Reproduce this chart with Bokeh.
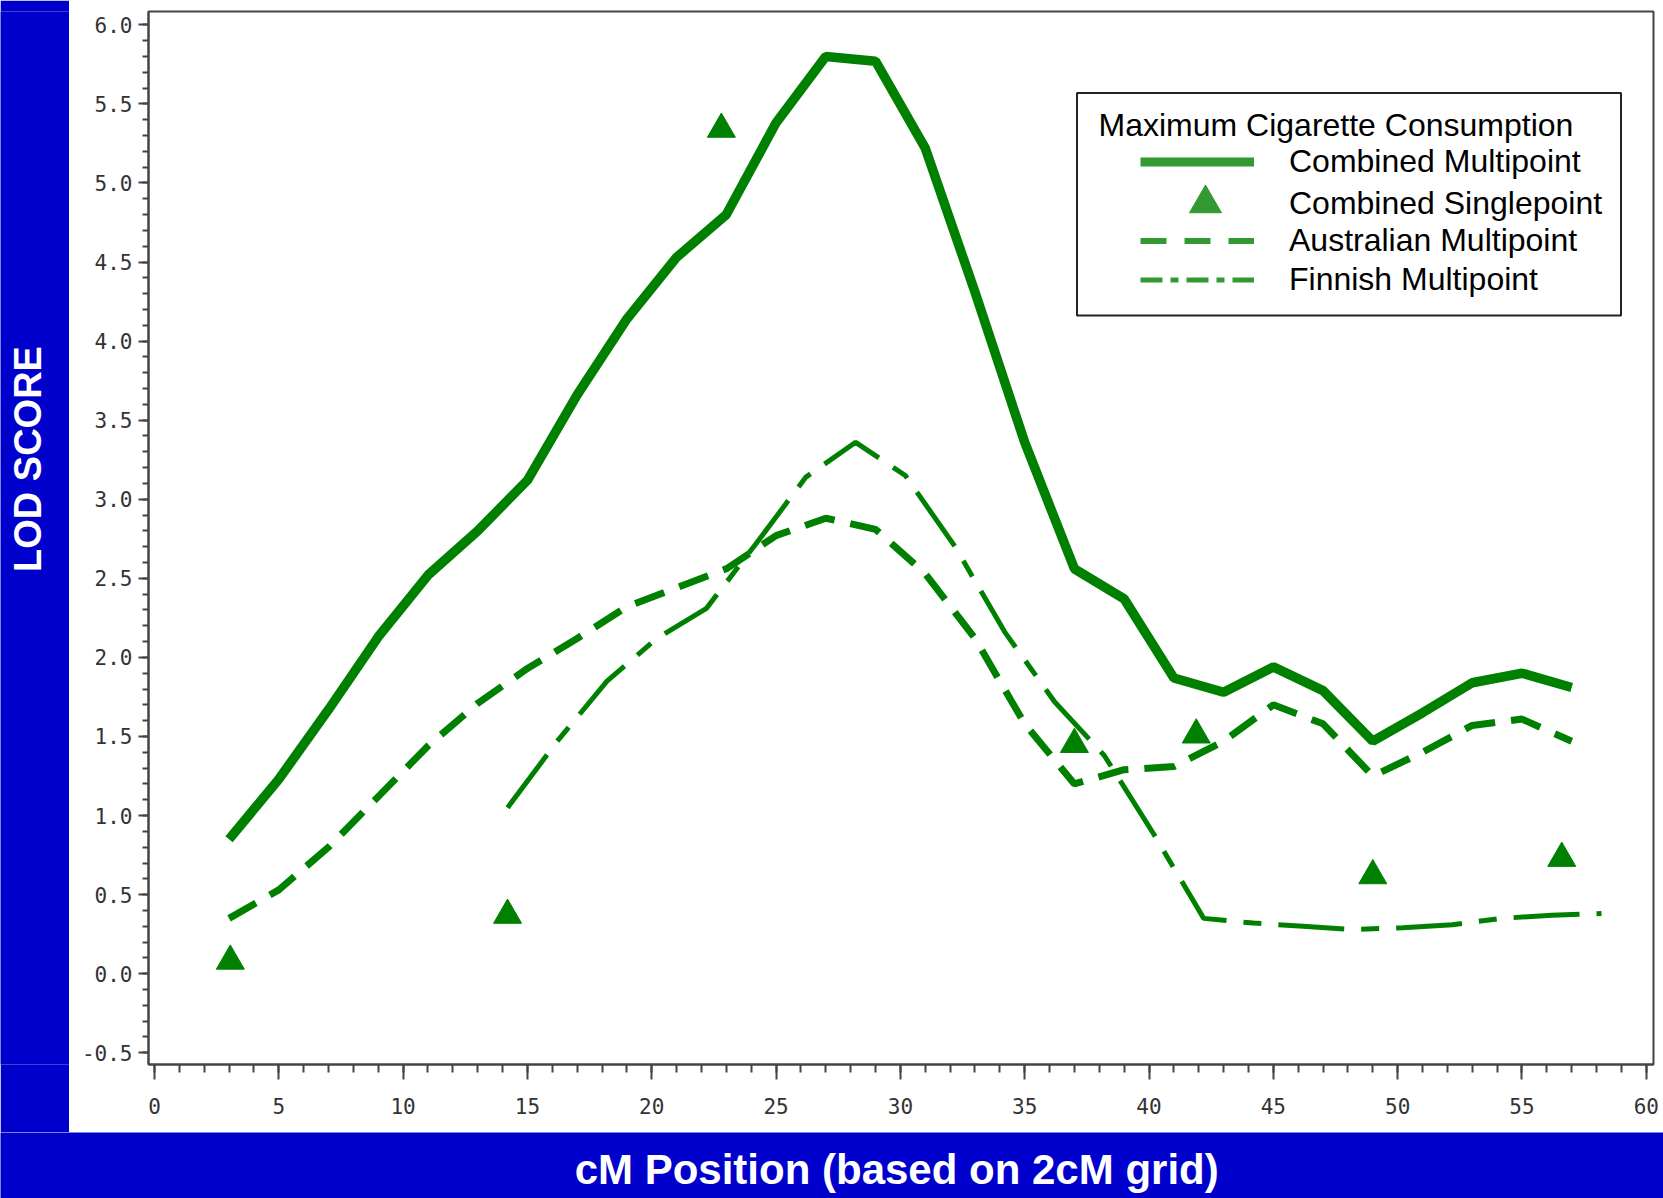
import math
from bokeh.plotting import figure
from bokeh.models import (Legend, LegendItem, Label, BoxAnnotation, FixedTicker,
                          PrintfTickFormatter, Range1d)
from bokeh.layouts import row, column
from bokeh.embed import file_html
from bokeh.resources import INLINE

# ---------------- data ----------------
cm_grid = [3, 5, 7, 9, 11, 13, 15, 17, 19, 21, 23, 25, 27, 29,
           31, 33, 35, 37, 39, 41, 43, 45, 47, 49, 51, 53, 55, 57]
combined_multipoint = [0.85, 1.23, 1.67, 2.13, 2.52, 2.80, 3.12, 3.66, 4.14, 4.53,
                       4.80, 5.38, 5.80, 5.77, 5.22, 4.31, 3.36, 2.56, 2.37, 1.87,
                       1.78, 1.94, 1.79, 1.47, 1.65, 1.84, 1.90, 1.81]
australian_multipoint = [0.35, 0.53, 0.80, 1.12, 1.44, 1.71, 1.93, 2.12, 2.32, 2.44,
                         2.56, 2.77, 2.88, 2.81, 2.53, 2.12, 1.58, 1.20, 1.29, 1.31,
                         1.47, 1.70, 1.58, 1.25, 1.40, 1.57, 1.61, 1.47]
finnish_cm = [14.2, 16.2, 18.2, 20.2, 22.2, 24.2, 26.2, 28.2, 30.2, 32.2, 34.2, 36.2,
              38.2, 40.2, 42.2, 44.2, 46.2, 48.2, 50.2, 52.2, 54.2, 56.2, 58.2]
finnish_multipoint = [1.05, 1.47, 1.85, 2.12, 2.31, 2.72, 3.14, 3.36, 3.15, 2.70, 2.16, 1.72,
                      1.38, 0.88, 0.35, 0.32, 0.30, 0.28, 0.29, 0.31, 0.35, 0.37, 0.38]
single_cm = [3.05, 14.2, 22.8, 37.0, 41.9, 49.0, 56.6]
single_lod = [0.08, 0.37, 5.34, 1.45, 1.51, 0.62, 0.73]

x_ticks = [0, 5, 10, 15, 20, 25, 30, 35, 40, 45, 50, 55, 60]
y_ticks = [-0.5, 0.0, 0.5, 1.0, 1.5, 2.0, 2.5, 3.0, 3.5, 4.0, 4.5, 5.0, 5.5, 6.0]

legend_title = "Maximum Cigarette Consumption"
legend_labels = ["Combined Multipoint", "Combined Singlepoint",
                 "Australian Multipoint", "Finnish Multipoint"]
y_label = "LOD SCORE"
x_label = "cM  Position (based on 2cM grid)"

# ---------------- styles ----------------
BLUE = "#0000CC"
GREEN = "#008000"
LEG_GREEN = "#339933"
AXC = "#444444"

main = figure(width=1594, height=1132, output_backend="svg", toolbar_location=None,
              x_range=Range1d(-0.24, 60.29), y_range=Range1d(-0.574, 6.084),
              min_border_left=79, min_border_right=10, min_border_top=11, min_border_bottom=68,
              background_fill_color="white", border_fill_color="white",
              outline_line_color=AXC, outline_line_width=2)
main.title.visible = False
main.grid.visible = False

main.xaxis.ticker = FixedTicker(ticks=x_ticks, minor_ticks=list(range(0, 61)))
main.yaxis.ticker = FixedTicker(ticks=y_ticks,
                                minor_ticks=[round(-0.5 + 0.1 * i, 2) for i in range(66)])
main.xaxis.formatter = PrintfTickFormatter(format="%d")
main.yaxis.formatter = PrintfTickFormatter(format="%.1f")
for ax in (main.xaxis[0], main.yaxis[0]):
    ax.axis_line_color = AXC
    ax.axis_line_width = 2
    ax.major_tick_line_color = AXC
    ax.major_tick_line_width = 2
    ax.minor_tick_line_color = AXC
    ax.minor_tick_line_width = 2
    ax.major_tick_in = 0
    ax.minor_tick_in = 0
    ax.major_label_text_font = "DejaVu Sans Mono"
    ax.major_label_text_font_size = "21px"
    ax.major_label_text_color = "#333333"
main.xaxis.major_tick_out = 15
main.xaxis.minor_tick_out = 8
main.xaxis.major_label_standoff = 18
main.yaxis.major_tick_out = 10
main.yaxis.minor_tick_out = 6
main.yaxis.major_label_standoff = 6

# data renderers
main.line(cm_grid, combined_multipoint, line_color=GREEN, line_width=9.5)
main.line(cm_grid, australian_multipoint, line_color=GREEN, line_width=7, line_dash="31 16")
main.line(finnish_cm, finnish_multipoint, line_color=GREEN, line_width=5, line_dash="66 17 18 17")
main.scatter(single_cm, single_lod, marker="triangle", size=28,
             fill_color=GREEN, line_color=GREEN)

# legend proxies: same data, hidden in the plot, styled as the reference's legend keys
lg_comb = main.line(cm_grid, combined_multipoint, line_color=LEG_GREEN, line_width=9, visible=False)
lg_single = main.scatter(single_cm, single_lod, marker="triangle",
                         fill_color=LEG_GREEN, line_color=LEG_GREEN, visible=False)
lg_aus = main.line(cm_grid, australian_multipoint, line_color=LEG_GREEN, line_width=6,
                   line_dash="26 18", visible=False)
lg_fin = main.line(finnish_cm, finnish_multipoint, line_color=LEG_GREEN, line_width=5,
                   line_dash="22 8 8 8", visible=False)

FRAME_BOTTOM = 1064  # page y of frame bottom
GLYPH_LEFT = 992     # frame-relative x of legend keys
# (renderer, label, centre y on page, row height, key shift right)
rows = [(lg_comb, legend_labels[0], 161, 39, 0),
        (lg_single, legend_labels[1], 203, 80, 8),
        (lg_aus, legend_labels[2], 240, 39, 0),
        (lg_fin, legend_labels[3], 279, 39, 0)]
for rend, lab, cy, h, dx in rows:
    lg = Legend(items=[LegendItem(label=lab, renderers=[rend])],
                location=(GLYPH_LEFT + dx, FRAME_BOTTOM - cy - h / 2), orientation="vertical",
                glyph_width=114, glyph_height=h, label_height=h, spacing=0,
                padding=0, margin=0, label_standoff=35 - dx,
                border_line_color=None, background_fill_alpha=0,
                label_text_font="Liberation Sans", label_text_font_size="32px",
                label_text_color="black")
    main.add_layout(lg)

main.add_layout(BoxAnnotation(left=928.5, right=1472.5, top=971.5, bottom=749,
                              left_units="screen", right_units="screen",
                              top_units="screen", bottom_units="screen",
                              fill_alpha=0, line_color="#222222", line_alpha=1.0,
                              line_width=2))
main.add_layout(Label(x=950, y=940, x_units="screen", y_units="screen", text=legend_title,
                      text_font="Liberation Sans", text_font_size="32px",
                      text_color="black", text_align="left", text_baseline="middle"))

# blue side panels with axis titles
left = figure(width=69, height=1132, output_backend="svg", toolbar_location=None,
              x_axis_location=None, y_axis_location=None, min_border=0,
              background_fill_color=BLUE, border_fill_color=BLUE, outline_line_color=None)
left.title.visible = False
left.grid.visible = False
# this panel's frame is aligned with the main frame (page y 11..1064)
left.add_layout(Label(x=27.5, y=605.5, x_units="screen", y_units="screen", text=y_label,
                      angle=math.pi / 2, text_font="Liberation Sans", text_font_size="38px",
                      text_font_style="bold", text_color="white",
                      text_align="center", text_baseline="middle"))

bottom = figure(width=1663, height=66, output_backend="svg", toolbar_location=None,
                x_axis_location=None, y_axis_location=None, min_border=0,
                background_fill_color=BLUE, border_fill_color=BLUE, outline_line_color=None)
bottom.title.visible = False
bottom.grid.visible = False
bottom.add_layout(Label(x=902, y=29, x_units="screen", y_units="screen", text=x_label,
                        text_font="Liberation Sans", text_font_size="42px",
                        text_font_style="bold", text_color="white",
                        text_align="center", text_baseline="alphabetic"))

layout = column(row(left, main), bottom)
open("out.html", "w").write(file_html(layout, INLINE))
